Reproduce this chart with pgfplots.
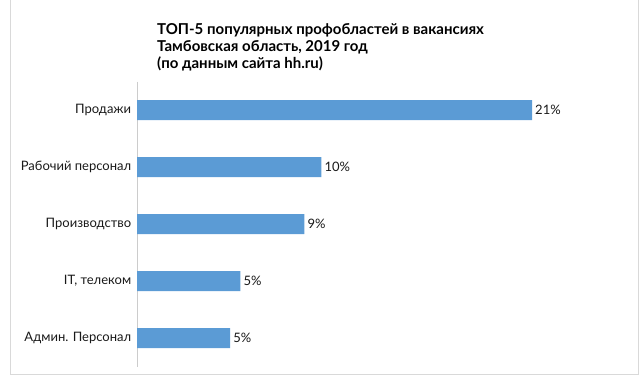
\documentclass[border=0pt]{standalone}
\usepackage{fontspec}
\setmainfont{Lato}
\usepackage{pgfplots}
\pgfplotsset{compat=1.18}
\definecolor{barblue}{RGB}{91,155,213}
\begin{document}
\begin{tikzpicture}
\path[use as bounding box] (0pt,0pt) rectangle (642pt,383pt);
\draw[black!15] (10pt,383pt) -- (10pt,9pt) -- (638pt,9pt) -- (638pt,383pt);
\node[anchor=north west, align=left, inner sep=0pt, font=\bfseries\fontsize{15}{17}\selectfont] at (157pt,360pt)
  {ТОП-5 популярных профобластей в вакансиях\\Тамбовская область, 2019 год\\(по данным сайта hh.ru)};
\begin{axis}[
  at={(137pt,16.5pt)}, anchor=south west,
  scale only axis, width=470.25pt, height=285pt,
  xbar, xmin=0, xmax=25, ymin=-0.5, ymax=4.5, y dir=reverse,
  bar width=20pt,
  axis line style={draw=none},
  xtick=\empty,
  ytick={0,1,2,3,4},
  yticklabels={Продажи, Рабочий персонал, Производство, {IT, телеком}, Админ. Персонал},
  ytick style={draw=none},
  yticklabel style={font=\fontsize{13}{15}\selectfont, text=black!90, xshift=2pt},
  point meta=explicit symbolic,
  nodes near coords,
  nodes near coords style={font=\fontsize{13}{15}\selectfont, text=black!90, anchor=west, inner sep=3pt},
]
\draw[black!20] (axis cs:0,-0.5) -- (axis cs:0,4.5);
\addplot[fill=barblue, draw=none] coordinates {
  (21.0,0) [21\%]
  (9.8,1) [10\%]
  (8.9,2) [9\%]
  (5.5,3) [5\%]
  (4.95,4) [5\%]
};
\end{axis}
\end{tikzpicture}
\end{document}
